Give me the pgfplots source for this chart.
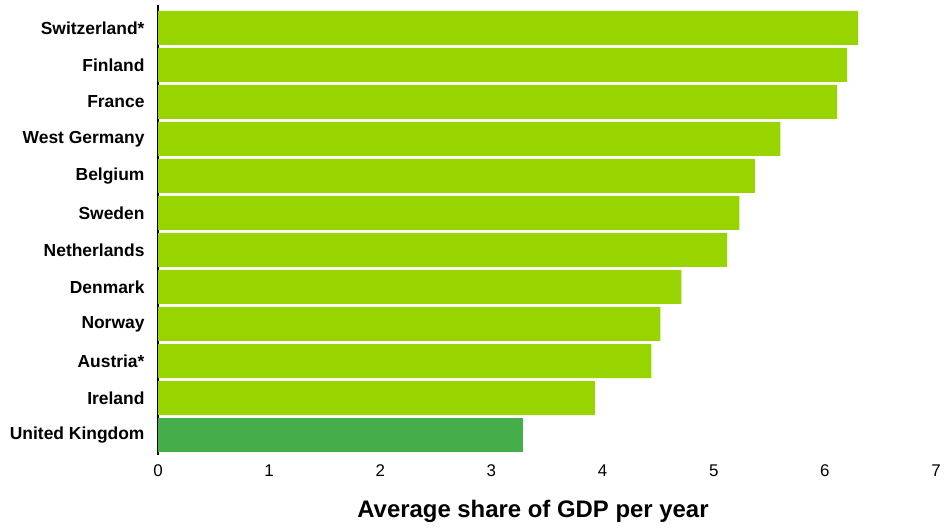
\documentclass[border=0pt]{standalone}
\usepackage{fontspec}
\setmainfont{Liberation Sans}
\usepackage{pgfplots}
\pgfplotsset{compat=1.18}
\definecolor{lime}{HTML}{97D400}
\definecolor{ukgreen}{HTML}{45AD4A}
\begin{document}
\begin{tikzpicture}
\path[use as bounding box] (0,0) rectangle (944bp,528bp);
\begin{axis}[
  at={(158bp,73bp)}, anchor=south west,
  scale only axis, width=778bp, height=450bp,
  xbar, bar width=34bp, bar shift=0pt,
  xmin=0, xmax=7, ymin=-0.54, ymax=11.62,
  axis x line*=bottom, axis y line*=left,
  x axis line style={draw=none},
  y axis line style={black, line width=1.3pt},
  xtick={0,1,2,3,4,5,6,7},
  ytick={0,...,11},
  yticklabels={United Kingdom,Ireland,Austria*,Norway,Denmark,Netherlands,Sweden,Belgium,West Germany,France,Finland,Switzerland*},
  major tick length=0pt,
  /pgf/number format/assume math mode=true,
  ticklabel style={font=\fontsize{17}{19}\selectfont},
  yticklabel style={font=\fontsize{17.5}{20}\selectfont\bfseries, xshift=-10bp},
  xticklabel style={yshift=-6bp},
  clip=false,
]
\addplot[fill=lime, draw=none] coordinates {
(0,0) (3.93,1) (4.44,2) (4.52,3) (4.71,4) (5.12,5) (5.23,6) (5.37,7) (5.60,8) (6.11,9) (6.20,10) (6.30,11)};
\addplot[fill=ukgreen, draw=none] coordinates {(3.28,0)};
\node[font=\fontsize{24}{27}\selectfont\bfseries, anchor=center] at (axis description cs:0.482,-0.125) {Average share of GDP per year};
\end{axis}
\end{tikzpicture}
\end{document}
